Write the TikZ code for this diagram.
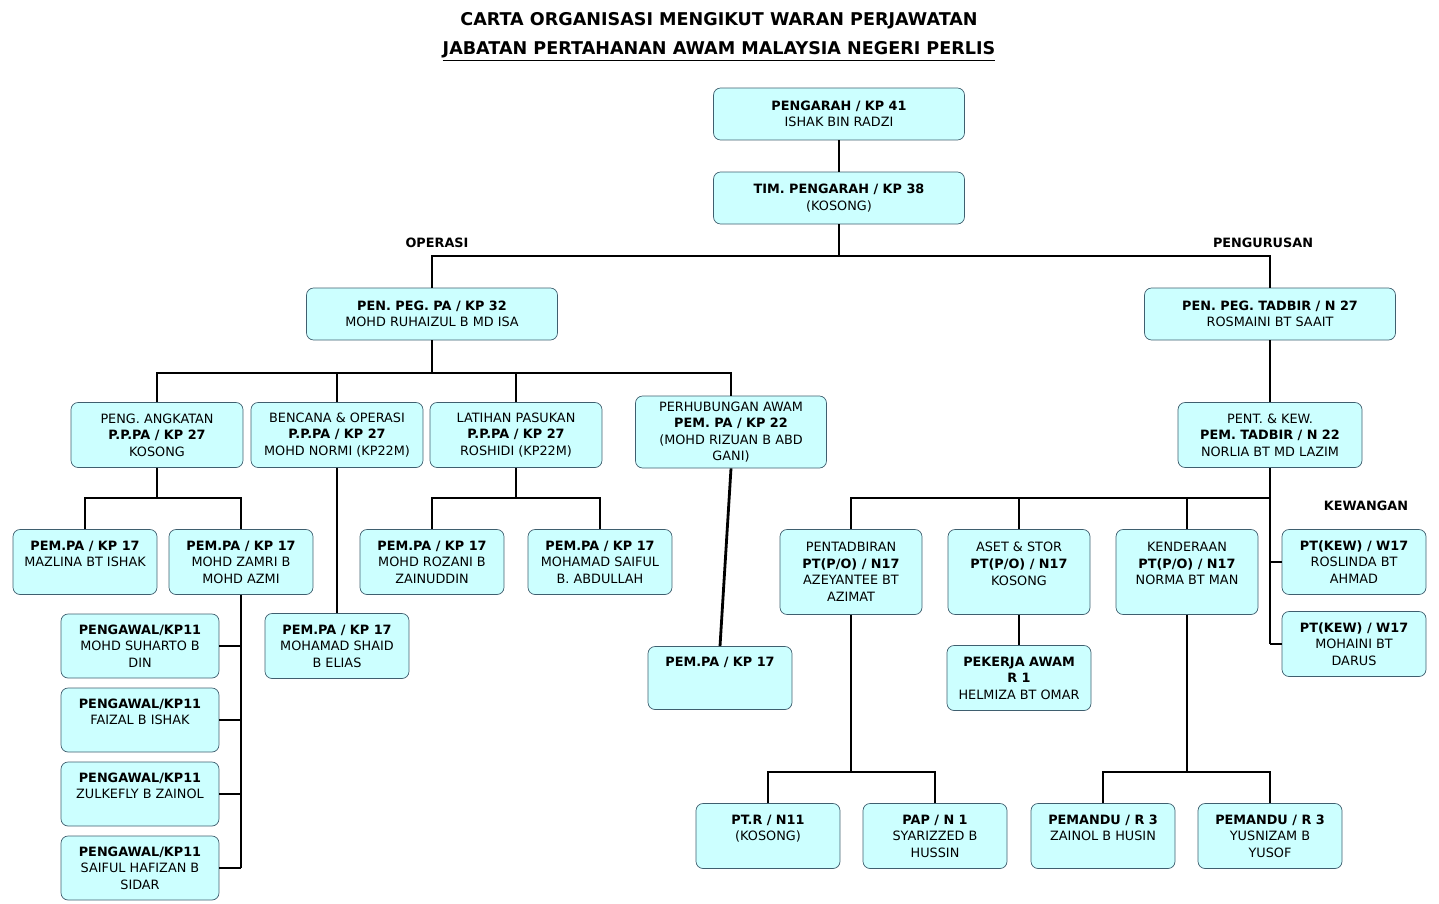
\documentclass[tikz,border=0pt]{standalone}
\usepackage{fontspec}
\setmainfont{DejaVu Sans}
\usetikzlibrary{positioning}
\definecolor{boxfill}{HTML}{CCFFFF}
\definecolor{boxline}{HTML}{3F5F6F}
\tikzset{
    box/.style={rectangle, draw=boxline, fill=boxfill, rounded corners=4pt, align=center, inner sep=1pt, font=\fontsize{7.3}{9.4}\selectfont},
    wide/.style={box, minimum width=5.02cm, minimum height=1.04cm},
    mid/.style={box, minimum width=3.44cm, minimum height=1.3cm},
    small/.style={box, minimum width=2.88cm, minimum height=1.3cm},
    tall/.style={box, minimum width=2.84cm, minimum height=1.7cm},
    guard/.style={box, minimum width=3.16cm, minimum height=1.28cm},
    conn/.style={line width=1.6pt},
    label/.style={font=\fontsize{7.3}{9}\selectfont\bfseries},
}
\begin{document}
\begin{tikzpicture}[x=0.02cm, y=-0.02cm]
    \useasboundingbox (0,0) rectangle (1439,903);

    \node[font=\fontsize{10}{12}\selectfont\bfseries] (title) at (719,21) {CARTA ORGANISASI MENGIKUT WARAN PERJAWATAN};
    \node[font=\fontsize{10}{12}\selectfont\bfseries, below=0pt of title] (title2) {\underline{JABATAN PERTAHANAN AWAM MALAYSIA NEGERI PERLIS}};

    \node[wide] (pengarah) at (839,114) {\textbf{PENGARAH / KP 41}\\ISHAK BIN RADZI};
    \node[wide] (tim) at (839,198) {\textbf{TIM. PENGARAH / KP 38}\\(KOSONG)};
    \node[label] (operasi) at (437,243) {OPERASI};
    \node[label] (pengurusan) at (1263,243) {PENGURUSAN};
    \node[wide] (penpa) at (432,314) {\textbf{PEN. PEG. PA / KP 32}\\MOHD RUHAIZUL B MD ISA};
    \node[wide] (pentadbir) at (1270,314) {\textbf{PEN. PEG. TADBIR / N 27}\\ROSMAINI BT SAAIT};

    % operasi
    \node[mid] (angkatan) at (157,435) {PENG. ANGKATAN\\\textbf{P.P.PA / KP 27}\\KOSONG};
    \node[mid] (bencana) at (337,435) {BENCANA \& OPERASI\\\textbf{P.P.PA / KP 27}\\MOHD NORMI (KP22M)};
    \node[mid] (latihan) at (516,435) {LATIHAN PASUKAN\\\textbf{P.P.PA / KP 27}\\ROSHIDI (KP22M)};
    \node[box, minimum width=3.82cm, minimum height=1.44cm] (perhubungan) at (731,432) {PERHUBUNGAN AWAM\\\textbf{PEM. PA / KP 22}\\(MOHD RIZUAN B ABD\\GANI)};
    \node[small] (mazlina) at (85,562) {\textbf{PEM.PA / KP 17}\\MAZLINA BT ISHAK\\~};
    \node[small] (zamri) at (241,562) {\textbf{PEM.PA / KP 17}\\MOHD ZAMRI B\\MOHD AZMI};
    \node[guard] (aw1) at (140,646) {\textbf{PENGAWAL/KP11}\\MOHD SUHARTO B\\DIN};
    \node[guard] (aw2) at (140,720) {\textbf{PENGAWAL/KP11}\\FAIZAL B ISHAK\\~};
    \node[guard] (aw3) at (140,794) {\textbf{PENGAWAL/KP11}\\ZULKEFLY B ZAINOL\\~};
    \node[guard] (aw4) at (140,868) {\textbf{PENGAWAL/KP11}\\SAIFUL HAFIZAN B\\SIDAR};
    \node[small] (shaid) at (337,646) {\textbf{PEM.PA / KP 17}\\MOHAMAD SHAID\\B ELIAS};
    \node[small] (rozani) at (432,562) {\textbf{PEM.PA / KP 17}\\MOHD ROZANI B\\ZAINUDDIN};
    \node[small] (saiful) at (600,562) {\textbf{PEM.PA / KP 17}\\MOHAMAD SAIFUL\\B. ABDULLAH};
    \node[small, minimum height=1.26cm] (pemkosong) at (720,678) {\textbf{PEM.PA / KP 17}\\~\\~};

    % pengurusan
    \node[box, minimum width=3.68cm, minimum height=1.3cm] (pentkew) at (1270,435) {PENT. \& KEW.\\\textbf{PEM. TADBIR / N 22}\\NORLIA BT MD LAZIM};
    \node[label] (kewangan) at (1366,506) {KEWANGAN};
    \node[tall] (pentadbiran) at (851,572) {PENTADBIRAN\\\textbf{PT(P/O) / N17}\\AZEYANTEE BT\\AZIMAT};
    \node[tall] (aset) at (1019,572) {ASET \& STOR\\\textbf{PT(P/O) / N17}\\KOSONG\\~};
    \node[tall] (kenderaan) at (1187,572) {KENDERAAN\\\textbf{PT(P/O) / N17}\\NORMA BT MAN\\~};
    \node[small] (kew1) at (1354,562) {\textbf{PT(KEW) / W17}\\ROSLINDA BT\\AHMAD};
    \node[small] (kew2) at (1354,644) {\textbf{PT(KEW) / W17}\\MOHAINI BT\\DARUS};
    \node[small] (pekerja) at (1019,678) {\textbf{PEKERJA AWAM}\\\textbf{R 1}\\HELMIZA BT OMAR};
    \node[small] (ptr) at (768,836) {\textbf{PT.R / N11}\\(KOSONG)\\~};
    \node[small] (pap) at (935,836) {\textbf{PAP / N 1}\\SYARIZZED B\\HUSSIN};
    \node[small] (zainol) at (1103,836) {\textbf{PEMANDU / R 3}\\ZAINOL B HUSIN\\~};
    \node[small] (yusnizam) at (1270,836) {\textbf{PEMANDU / R 3}\\YUSNIZAM B\\YUSOF};

    % connectors
    \coordinate (j1) at (839,256);
    \coordinate (j2) at (432,373);
    \coordinate (j3) at (157,498);
    \coordinate (j4) at (516,498);
    \coordinate (j5) at (1270,498);
    \coordinate (j6) at (851,772);
    \coordinate (j7) at (1187,772);
    \draw[conn] (pengarah) -- (tim);
    \draw[conn] (tim.south) -- (j1);
    \draw[conn] (penpa.north) |- (j1) -| (pentadbir.north);
    \draw[conn] (penpa.south) -- (j2);
    \draw[conn] (angkatan.north) |- (j2) -| (perhubungan.north);
    \draw[conn] (bencana.north) -- (bencana.north |- j2);
    \draw[conn] (latihan.north) -- (latihan.north |- j2);
    \draw[conn] (angkatan.south) -- (j3);
    \draw[conn] (mazlina.north) |- (j3) -| (zamri.north);
    \draw[conn] (zamri.south) -- (zamri.south |- aw4.east);
    \foreach \n in {aw1,aw2,aw3,aw4}
        \draw[conn] (\n.east) -- (\n.east -| zamri.south);
    \draw[conn] (bencana.south) -- (shaid.north);
    \draw[conn] (latihan.south) -- (j4);
    \draw[conn] (rozani.north) |- (j4) -| (saiful.north);
    \draw[conn] (perhubungan.south) -- (pemkosong.north);
    \draw[conn] (pentadbir.south) -- (pentkew.north);
    \draw[conn] (pentkew.south) -- (kew2.west -| pentkew.south);
    \draw[conn] (pentadbiran.north) |- (j5);
    \draw[conn] (aset.north) -- (aset.north |- j5);
    \draw[conn] (kenderaan.north) -- (kenderaan.north |- j5);
    \draw[conn] (kew1.west) -- (kew1.west -| pentkew.south);
    \draw[conn] (kew2.west) -- (kew2.west -| pentkew.south);
    \draw[conn] (aset.south) -- (pekerja.north);
    \draw[conn] (pentadbiran.south) -- (j6);
    \draw[conn] (ptr.north) |- (j6) -| (pap.north);
    \draw[conn] (kenderaan.south) -- (j7);
    \draw[conn] (zainol.north) |- (j7) -| (yusnizam.north);
\end{tikzpicture}
\end{document}
